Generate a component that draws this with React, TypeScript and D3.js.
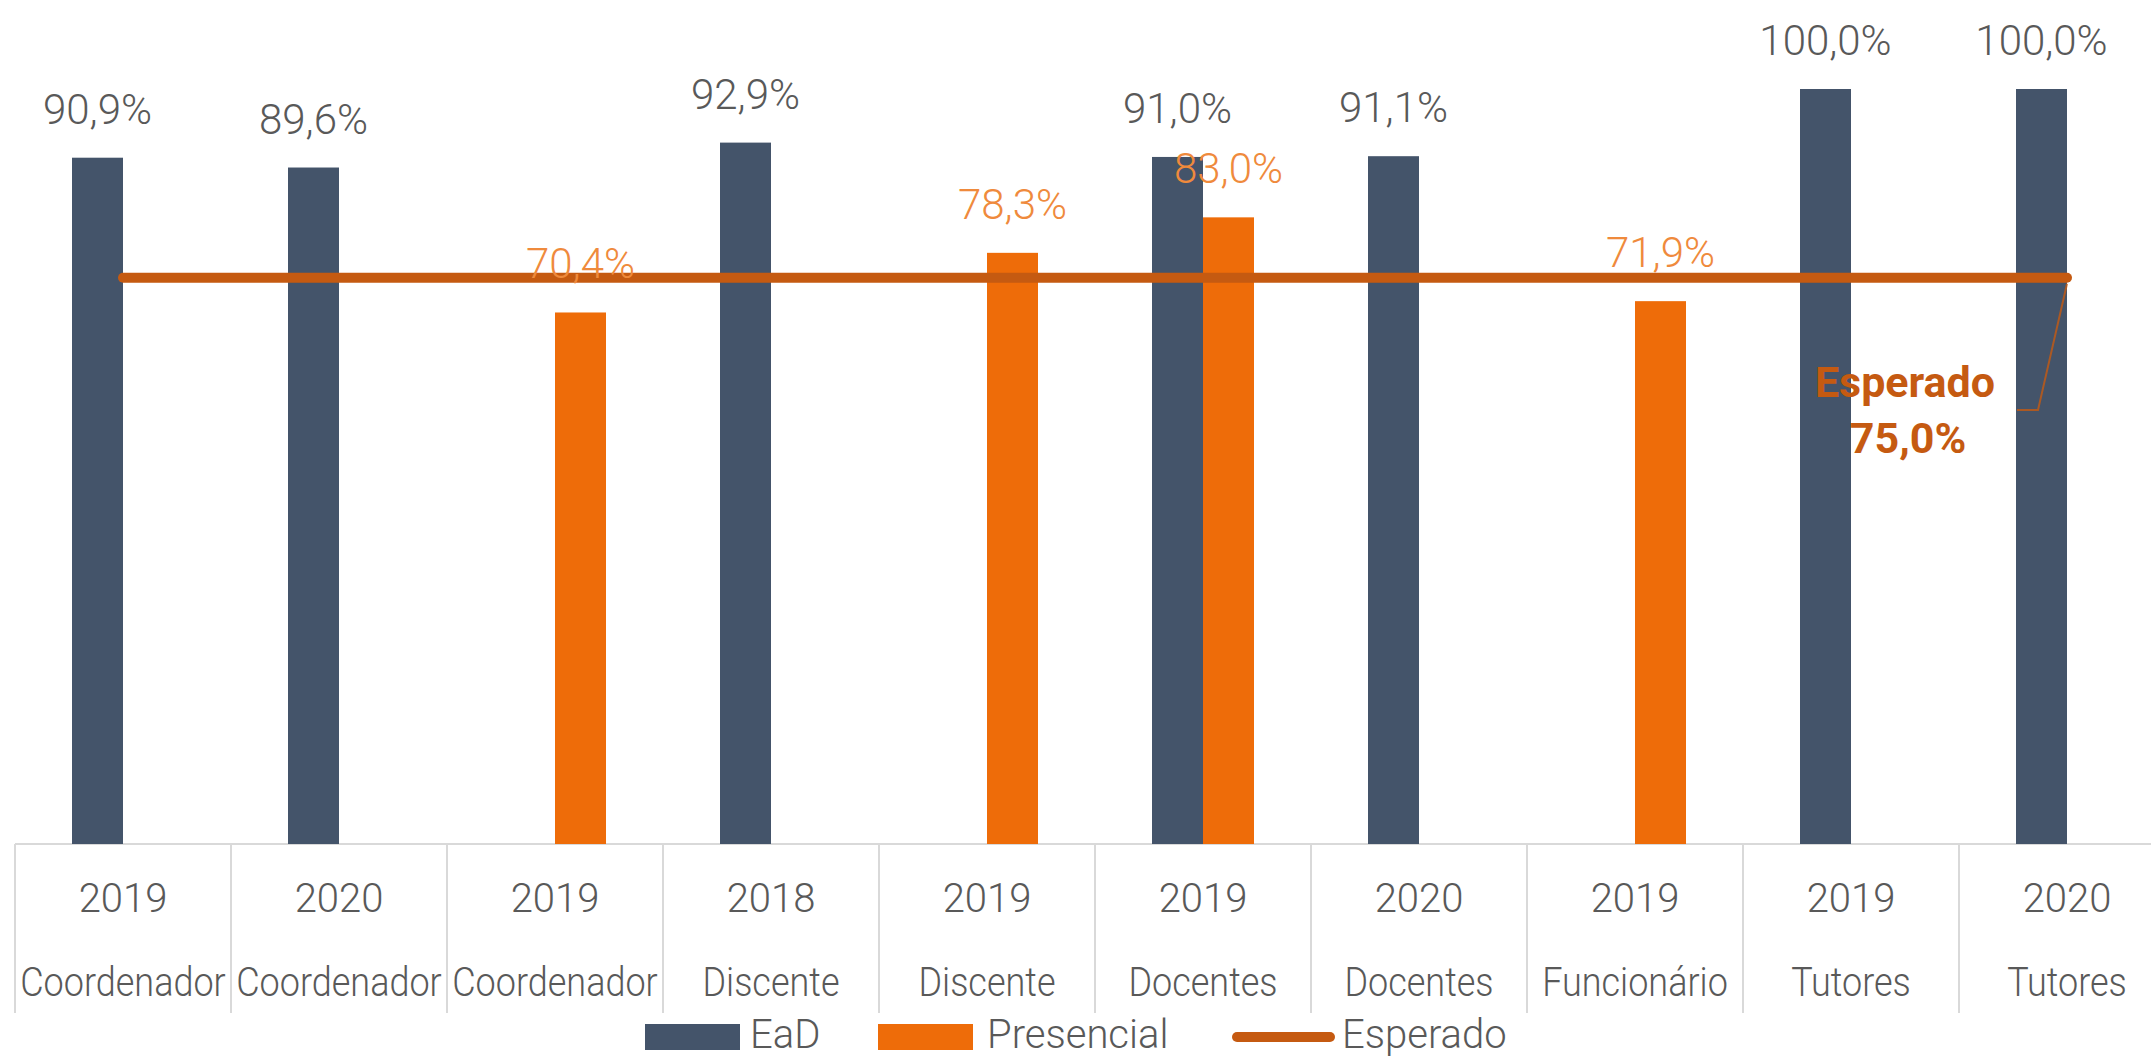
import React, { useEffect } from 'react';
import * as d3 from 'd3';

const categories = ['Coordenador', 'Coordenador', 'Coordenador', 'Discente', 'Discente', 'Docentes', 'Docentes', 'Funcionário', 'Tutores', 'Tutores'];
const years = ['2019', '2020', '2019', '2018', '2019', '2019', '2020', '2019', '2019', '2020'];
const eadValues: (number | null)[] = [0.909, 0.896, null, 0.929, null, 0.91, 0.911, null, 1.0, 1.0];
const presencialValues: (number | null)[] = [null, null, 0.704, null, 0.783, 0.83, null, 0.719, null, null];
const esperadoValue = 0.75;
const seriesNames = ['EaD', 'Presencial'];
const legendLabels = ['EaD', 'Presencial', 'Esperado'];

const W = 2151;
const H = 1057;
const C_EAD = '#44546A';
const C_PRES = '#EE6C09';
const C_LINE = '#C55A11';
const C_LABEL = '#595959';
const C_PRES_LABEL = '#EF8A3C';
const C_GRID = '#D9D9D9';
const FONT = 'Roboto, "Noto Sans", sans-serif';

const locale = d3.formatLocale({ decimal: ',', thousands: '.', grouping: [3], currency: ['R$', ''] });
const fmt = locale.format('.1%');

export default function App() {
  useEffect(() => {
    document.body.style.margin = '0';
  }, []);

  const idx = d3.range(categories.length);
  const x0 = d3.scaleBand<number>().domain(idx).range([15, 2175]).padding(0);
  const bw = x0.bandwidth();
  const barW = 51;
  const x1 = d3.scaleBand<string>().domain(seriesNames).range([bw / 2 - barW, bw / 2 + barW]).padding(0);
  const y = d3.scaleLinear().domain([0, 1]).range([844, 89]);
  const baseY = y(0);

  const series = [
    { name: 'EaD', values: eadValues, color: C_EAD, labelColor: C_LABEL },
    { name: 'Presencial', values: presencialValues, color: C_PRES, labelColor: C_PRES_LABEL },
  ];

  const lineX1 = (x0(0) as number) + bw / 2;
  const lineX2 = (x0(categories.length - 1) as number) + bw / 2;
  const lineY = y(esperadoValue);
  const linePath = d3.line()([[lineX1, lineY], [lineX2, lineY]]) as string;

  return (
    <svg width={W} height={H} style={{ display: 'block', background: '#fff' }} fontFamily={FONT}>
      {/* axis line */}
      <line x1={15} x2={W} y1={baseY} y2={baseY} stroke={C_GRID} strokeWidth={2} />
      {/* category separators */}
      {d3.range(categories.length + 1).map((i) => {
        const xx = 15 + i * bw;
        return <line key={'sep' + i} x1={xx} x2={xx} y1={baseY} y2={1013} stroke={C_GRID} strokeWidth={2} />;
      })}
      {/* bars */}
      {series.map((s) =>
        s.values.map((v, i) =>
          v == null ? null : (
            <rect
              key={s.name + i}
              x={(x0(i) as number) + (x1(s.name) as number)}
              y={y(v)}
              width={x1.bandwidth()}
              height={baseY - y(v)}
              fill={s.color}
            />
          )
        )
      )}
      {/* expected line */}
      <path d={linePath} stroke={C_LINE} strokeWidth={10} strokeLinecap="round" fill="none" />
      {/* bar labels */}
      {series.map((s) =>
        s.values.map((v, i) =>
          v == null ? null : (
            <text
              key={'lbl' + s.name + i}
              x={(x0(i) as number) + (x1(s.name) as number) + x1.bandwidth() / 2}
              y={y(v) - 34}
              textAnchor="middle"
              fontSize={42}
              fontWeight={300}
              fill={s.labelColor}
            >
              {fmt(v)}
            </text>
          )
        )
      )}
      {/* esperado annotation */}
      <path
        d={d3.line()([[lineX2, lineY + 6], [2038, 410], [2017, 410]]) as string}
        stroke={C_LINE}
        strokeWidth={2}
        fill="none"
        opacity={0.8}
      />
      <text x={1905} y={397} textAnchor="middle" fontSize={43} fontWeight={700} fill={C_LINE}>
        Esperado
      </text>
      <text x={1908} y={453} textAnchor="middle" fontSize={43} fontWeight={700} fill={C_LINE}>
        {fmt(esperadoValue)}
      </text>
      {/* category labels */}
      {idx.map((i) => {
        const cx = (x0(i) as number) + bw / 2;
        return (
          <g key={'cat' + i}>
            <text x={cx} y={912} textAnchor="middle" fontSize={40} fontWeight={300} fill={C_LABEL}>
              {years[i]}
            </text>
            <text
              x={cx}
              y={996}
              textAnchor="middle"
              fontSize={40}
              fontWeight={300}
              fill={C_LABEL}
              transform={`translate(${cx},0) scale(0.9,1) translate(${-cx},0)`}
            >
              {categories[i]}
            </text>
          </g>
        );
      })}
      {/* legend */}
      <g>
        <rect x={645} y={1024} width={95} height={26} fill={C_EAD} />
        <text x={750} y={1048} fontSize={40} fontWeight={300} fill={C_LABEL}>
          {legendLabels[0]}
        </text>
        <rect x={878} y={1024} width={95} height={26} fill={C_PRES} />
        <text x={987} y={1048} fontSize={40} fontWeight={300} fill={C_LABEL}>
          {legendLabels[1]}
        </text>
        <line x1={1237} x2={1330} y1={1037} y2={1037} stroke={C_LINE} strokeWidth={10} strokeLinecap="round" />
        <text x={1342} y={1048} fontSize={40} fontWeight={300} fill={C_LABEL}>
          {legendLabels[2]}
        </text>
      </g>
    </svg>
  );
}
